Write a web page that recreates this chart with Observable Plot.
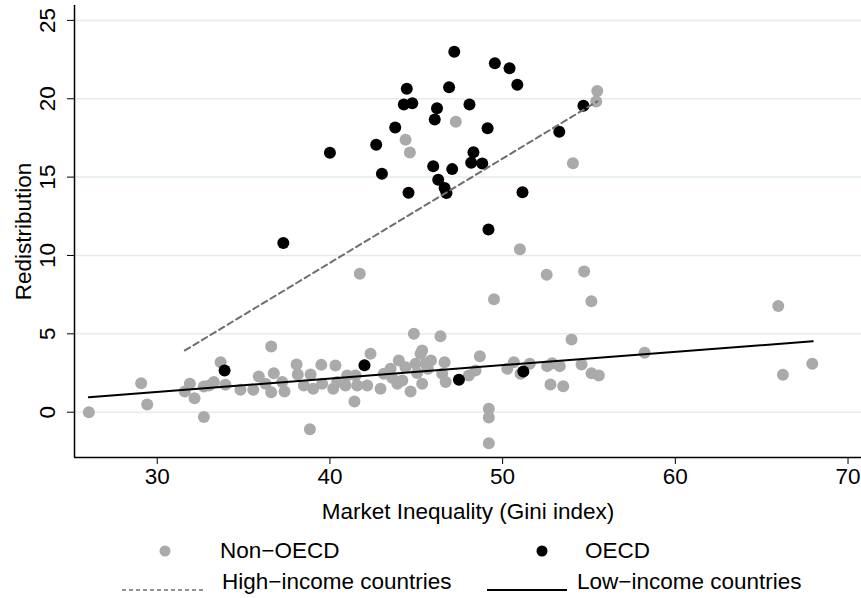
<!DOCTYPE html>
<html>
<head>
<meta charset="utf-8">
<script src="https://cdn.jsdelivr.net/npm/d3@7"></script>
<script src="https://cdn.jsdelivr.net/npm/@observablehq/plot@0.6"></script>
<style>
  body { margin: 0; background: #fff; font-family: "Liberation Sans", Arial, sans-serif; }
  #wrap { position: relative; width: 861px; height: 598px; }
  #legend { position: absolute; left: 0; top: 530px; width: 861px; height: 68px; }
  .lg { position: absolute; font-size: 22.5px; color: #000; line-height: 1; white-space: nowrap; }
</style>
</head>
<body>
<div id="wrap">
  <div id="chart"></div>
  <div id="legend"></div>
</div>
<script>
// ---- data ----
const oecdX = [33.9, 37.3, 40.0, 42.68, 43.01, 43.78, 44.28, 44.45, 44.77, 44.55, 47.2, 46.9, 46.2, 46.07, 45.98, 46.27, 46.64, 46.75, 47.08, 48.08, 48.31, 48.18, 48.82, 49.13, 49.18, 49.55, 50.4, 50.85, 51.15, 53.28, 54.68, 42.0, 47.47, 51.2];
const oecdY = [2.66, 10.8, 16.55, 17.06, 15.21, 18.17, 19.64, 20.64, 19.72, 14.0, 23.0, 20.74, 19.4, 18.68, 15.7, 14.83, 14.3, 13.98, 15.51, 19.64, 16.59, 15.92, 15.87, 18.12, 11.66, 22.27, 21.95, 20.9, 14.04, 17.89, 19.55, 3.0, 2.07, 2.6];

const nonOecdX = [55.48, 55.42, 47.29, 44.38, 44.63, 54.07, 51.0, 41.73, 52.55, 54.72, 49.5, 55.14, 65.96, 44.86, 46.4, 53.99, 58.22, 36.6, 67.93, 66.23,
  26.04, 29.07, 29.42, 31.89, 31.6, 32.16, 32.7, 33.0, 32.7, 33.67, 33.28, 33.95, 34.82, 35.56, 35.88, 36.75, 36.27, 36.6, 37.24, 37.37,
  38.07, 38.14, 38.88, 38.49, 39.03, 39.5, 39.55, 40.19, 40.32, 40.42, 38.84, 41.0, 40.9, 41.48, 41.58, 42.16, 41.42, 42.35, 42.93, 43.12,
  43.51, 43.99, 43.9, 44.19, 44.38, 44.67, 44.96, 45.25, 45.34, 45.34, 45.54, 45.67, 46.64, 46.5, 46.7, 48.04, 48.43, 48.68, 50.27, 50.65,
  51.04, 51.57, 52.58, 52.87, 53.31, 52.77, 53.51, 54.57, 55.15, 55.57, 49.2, 49.2, 49.2, 43.6, 45.05, 45.85];
const nonOecdY = [20.49, 19.83, 18.53, 17.38, 16.57, 15.89, 10.4, 8.84, 8.77, 8.98, 7.2, 7.08, 6.77, 5.0, 4.85, 4.64, 3.79, 4.19, 3.09, 2.39,
  0.0, 1.85, 0.49, 1.81, 1.32, 0.89, 1.64, 1.7, -0.3, 3.19, 1.92, 1.75, 1.43, 1.43, 2.28, 2.49, 1.81, 1.28, 1.92, 1.32,
  3.04, 2.41, 2.41, 1.7, 1.49, 3.02, 1.81, 1.49, 2.98, 1.92, -1.08, 2.34, 1.7, 2.34, 1.7, 1.7, 0.68, 3.73, 1.49, 2.45,
  2.77, 3.3, 1.81, 2.02, 2.87, 1.32, 3.09, 3.73, 3.94, 1.81, 3.09, 2.77, 3.19, 2.45, 1.92, 2.34, 2.66, 3.57, 2.77, 3.19,
  2.45, 3.09, 2.94, 3.13, 2.94, 1.77, 1.66, 3.04, 2.49, 2.34, 0.22, -0.34, -1.98, 2.2, 2.5, 3.3];

// fitted lines (endpoints)
const highIncomeX = [31.6, 55.48];
const highIncomeY = [3.94, 19.83];
const lowIncomeX = [26.04, 67.96];
const lowIncomeY = [0.96, 4.53];

const xTicks = [30, 40, 50, 60, 70];
const yTicks = [0, 5, 10, 15, 20, 25];
const xLabel = "Market Inequality (Gini index)";
const yLabel = "Redistribution";
const legendLabels = ["Non\u2212OECD", "OECD", "High\u2212income countries", "Low\u2212income countries"];

// ---- build ----
const xDomain = [25.21, 70.78];
const yDomain = [-2.89, 25.95];
const nonOecd = nonOecdX.map((x, i) => ({x, y: nonOecdY[i]}));
const oecd = oecdX.map((x, i) => ({x, y: oecdY[i]}));
const high = highIncomeX.map((x, i) => ({x, y: highIncomeY[i]}));
const low = lowIncomeX.map((x, i) => ({x, y: lowIncomeY[i]}));

const FONT = 22.5;
const chart = Plot.plot({
  width: 861,
  height: 530,
  marginLeft: 74,
  marginRight: 0,
  marginTop: 5,
  marginBottom: 73,
  style: {fontFamily: '"Liberation Sans", Arial, sans-serif', fontSize: FONT + "px", color: "#000", background: "#fff"},
  x: {domain: xDomain, range: [74, 861]},
  y: {domain: yDomain},
  marks: [
    Plot.ruleY(yTicks, {stroke: "#e3ecef", strokeWidth: 1.5}),
    Plot.dot(nonOecd, {x: "x", y: "y", r: 6, fill: "#aaaaaa", stroke: "none"}),
    Plot.dot(oecd, {x: "x", y: "y", r: 6, fill: "#000", stroke: "none"}),
    Plot.line(high, {x: "x", y: "y", stroke: "#6e6e6e", strokeWidth: 2, strokeDasharray: "6,4"}),
    Plot.line(low, {x: "x", y: "y", stroke: "#000", strokeWidth: 2}),
    Plot.ruleX([xDomain[0]], {stroke: "#000", strokeWidth: 1.5}),
    Plot.ruleY([yDomain[0]], {stroke: "#000", strokeWidth: 1.5}),
    Plot.axisX({ticks: xTicks, tickSize: 7, tickPadding: 4, fontSize: FONT, label: null, tickFormat: d => String(d)}),
    Plot.axisY({ticks: yTicks, tickSize: 7, tickFormat: () => "", label: null}),
    Plot.text(yTicks, {y: d => d, text: d => String(d), frameAnchor: "left", dx: -27, rotate: -90, textAnchor: "middle", lineAnchor: "middle", fontSize: FONT}),
    Plot.text([yLabel], {text: d => d, frameAnchor: "left", dx: -51, rotate: -90, textAnchor: "middle", lineAnchor: "middle", fontSize: FONT}),
    Plot.text([xLabel], {text: d => d, frameAnchor: "bottom", dy: 54, textAnchor: "middle", lineAnchor: "middle", fontSize: FONT})
  ]
});
document.getElementById("chart").appendChild(chart);

// ---- legend below ----
const lg = document.getElementById("legend");
function sw(html, left, top) {
  const d = document.createElement("div");
  d.style.position = "absolute"; d.style.left = left + "px"; d.style.top = top + "px";
  d.innerHTML = html; lg.appendChild(d);
}
function lab(text, left, cy) {
  const d = document.createElement("div");
  d.className = "lg"; d.textContent = text;
  d.style.left = left + "px"; d.style.top = (cy - FONT / 2) + "px";
  lg.appendChild(d);
}
sw('<svg width="14" height="14"><circle cx="7" cy="7" r="5.5" fill="#aaaaaa"/></svg>', 158, 14);
lab(legendLabels[0], 220, 21);
sw('<svg width="14" height="14"><circle cx="7" cy="7" r="5.5" fill="#000"/></svg>', 535, 14);
lab(legendLabels[1], 585, 21);
sw('<svg width="84" height="6"><line x1="0" x2="84" y1="3" y2="3" stroke="#6e6e6e" stroke-width="1.5" stroke-dasharray="4,3"/></svg>', 122, 49);
lab(legendLabels[2], 222, 52);
sw('<svg width="80" height="6"><line x1="0" x2="80" y1="3" y2="3" stroke="#000" stroke-width="2"/></svg>', 487, 49);
lab(legendLabels[3], 577, 52);
</script>
</body>
</html>
